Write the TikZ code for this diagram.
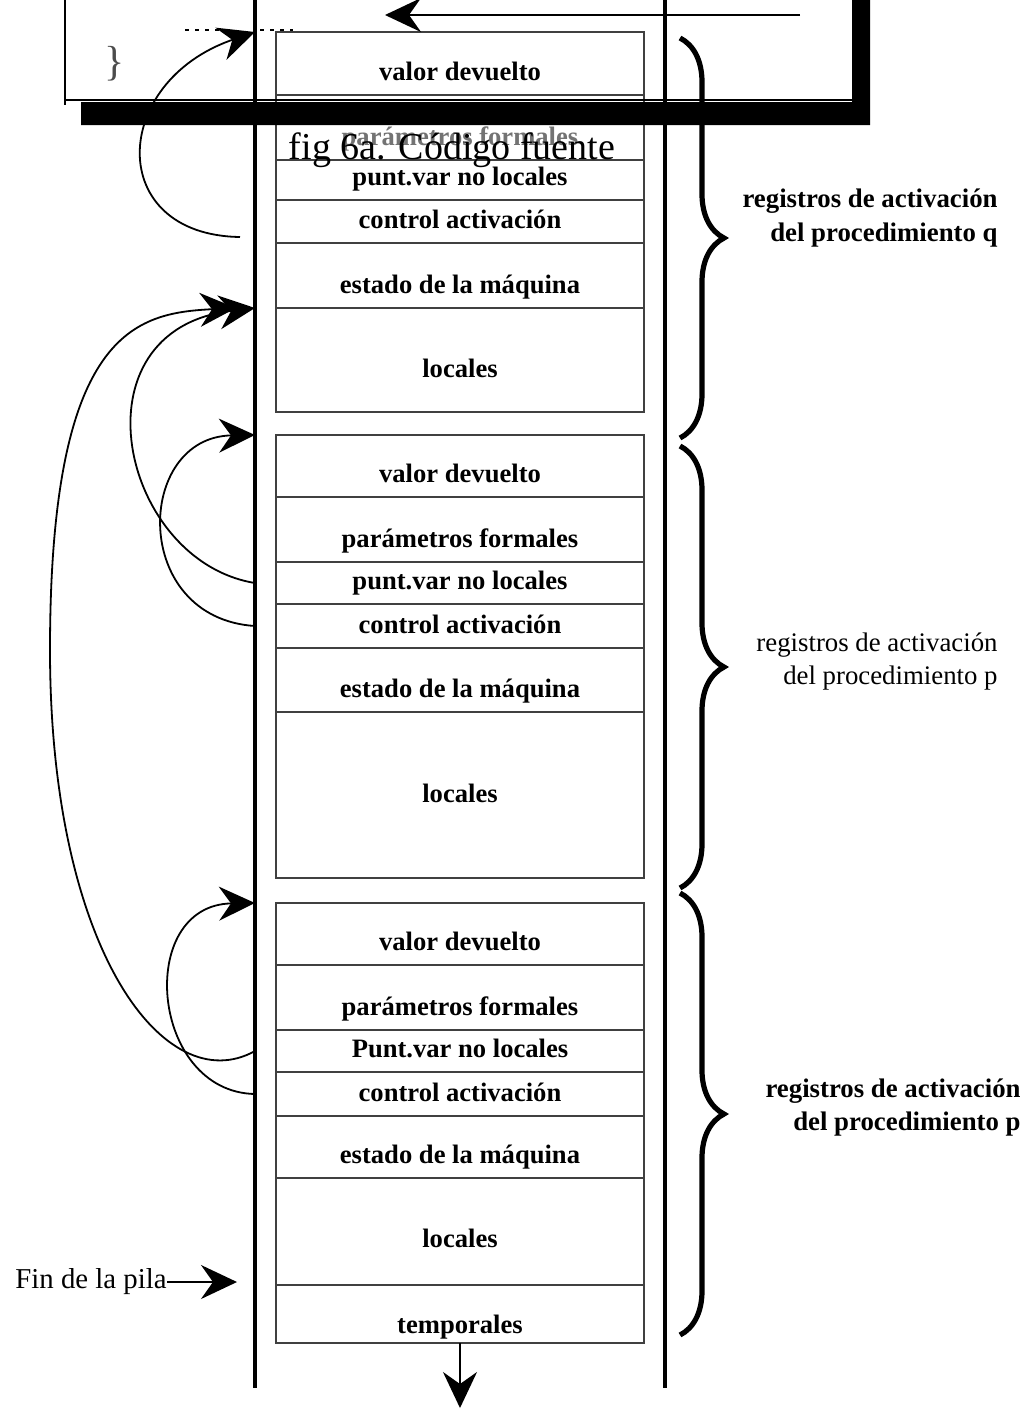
\documentclass[tikz,border=0pt]{standalone}
\usepackage{fontspec}
\setmainfont{Liberation Serif}
\usepackage{tikz}
\usetikzlibrary{positioning,arrows.meta,decorations.pathreplacing}
\tikzstyle{celda} = [rectangle, draw=black!75, line width=0.9pt, minimum width=184pt, inner sep=0pt, outer sep=0pt, text depth=7.5pt, font=\bfseries\fontsize{13.3}{15}\selectfont]
\tikzstyle{etiqueta} = [align=right, inner sep=0pt, anchor=east, font=\bfseries\fontsize{13.4}{17}\selectfont]
\tikzstyle{arrow} = [line width=0.9pt,->,>={Stealth[length=18pt,width=17pt,inset=6pt]}]
\tikzstyle{llave} = [decorate, decoration={brace, amplitude=22pt}, line width=2.6pt]
\tikzstyle{pared} = [line width=1.6pt]

\begin{document}
\begin{tikzpicture}[x=0.5pt, y=-0.5pt]
\useasboundingbox (0,0) rectangle (1023,1410);

% paredes de la pila
\coordinate (izq) at (255,0);
\coordinate (izq2) at (236,0);
\draw[pared] (izq) -- (255,1388);
\draw[pared] (665,0) -- (665,1388);

% registro del procedimiento q
\node[celda, anchor=north, text height=24pt] (q1) at (460,32) {valor devuelto};
\node[celda, text height=25pt, below=0pt of q1, text=black!55] (q2) {parámetros formales};
\node[celda, text height=12.5pt, below=0pt of q2] (q3) {punt.var no locales};
\node[celda, text height=14pt, below=0pt of q3] (q4) {control activación};
\node[celda, text height=25pt, below=0pt of q4] (q5) {estado de la máquina};
\node[celda, text height=34.5pt, text depth=17.5pt, below=0pt of q5] (q6) {locales};

% registro del procedimiento p
\node[celda, anchor=north, text height=23.5pt] (p1) at (460,435) {valor devuelto};
\node[celda, text height=25pt, below=0pt of p1] (p2) {parámetros formales};
\node[celda, text height=13.5pt, below=0pt of p2] (p3) {punt.var no locales};
\node[celda, text height=14.5pt, below=0pt of p3] (p4) {control activación};
\node[celda, text height=24.5pt, below=0pt of p4] (p5) {estado de la máquina};
\node[celda, text height=45pt, text depth=38pt, below=0pt of p5] (p6) {locales};

% registro del procedimiento p (otra vez)
\node[celda, anchor=north, text height=23.5pt] (r1) at (460,903) {valor devuelto};
\node[celda, text height=25pt, below=0pt of r1] (r2) {parámetros formales};
\node[celda, text height=13.5pt, below=0pt of r2] (r3) {Punt.var no locales};
\node[celda, text height=14.5pt, below=0pt of r3] (r4) {control activación};
\node[celda, text height=23.5pt, below=0pt of r4] (r5) {estado de la máquina};
\node[celda, text height=34.5pt, text depth=19pt, below=0pt of r5] (r6) {locales};
\node[celda, text height=24pt, text depth=5pt, below=0pt of r6] (r7) {temporales};

% llaves y etiquetas
\draw[llave] (680,38) -- (680,438);
\draw[llave] (680,446) -- (680,888);
\draw[llave] (680,893) -- (680,1335);
\node[etiqueta] (regq) at (998,218) {registros de activación\\del procedimiento q};
\node[etiqueta, font=\fontsize{13.4}{16.5}\selectfont] (regp) at (998,662) {registros de activación\\del procedimiento p};
\node[etiqueta, font=\bfseries\fontsize{13.4}{16.5}\selectfont] (regr) at (1021,1108) {registros de activación\\del procedimiento p};

% enlaces
\coordinate (qa) at (240,237);
\draw[arrow] (qa) .. controls +(-135,-2) and +(-145,50) .. (q1.north -| izq);
\draw[arrow] (p3 -| izq) .. controls +(-135,-22) and +(-185,22) .. (q6.north -| izq);
\draw[arrow] (p4 -| izq) .. controls +(-125,-8) and +(-120,2) .. (p1.north -| izq);
\draw[arrow] (r3 -| izq) .. controls +(-90,50) and +(0,300) .. (50,650) .. controls +(0,-320) and +(-100,5) .. (q6.north -| izq2);
\draw[arrow] (r4 -| izq) .. controls +(-105,-2) and +(-120,2) .. (r1.north -| izq);

% fin de la pila
\node[anchor=east, inner sep=0pt, font=\fontsize{14.4}{15}\selectfont] (fin) at (167,1282) {Fin de la pila};
\coordinate (finpila) at (237,1282);
\draw[arrow] (fin) -- (finpila);
\coordinate (abajo) at (460,1408);
\draw[arrow] (r7) -- (abajo);

% ventana del codigo fuente
\draw[line width=0.6pt] (65,-5) -- (65,105);
\draw[line width=0.6pt] (65,100) -- (852,100);
\fill (852,-5) -- (870,-5) -- (870,125) -- (81,125) -- (81,102) -- (852,102) -- cycle;
\node[font=\fontsize{21}{21}\selectfont, text=black!70] (llavecod) at (115,64) {\}};
\draw[dash pattern=on 1.8pt off 3.2pt, line width=1.2pt] (185,30) -- (228,30);
\draw[dash pattern=on 1.8pt off 3.2pt, line width=1.2pt] (260,30) -- (293,30);
\coordinate (origen) at (800,15);
\coordinate (destino) at (385,15);
\draw[arrow] (origen) -- (destino);
\node[font=\fontsize{19}{19}\selectfont] (figura) at (452,150) {fig 6a. Código fuente};
\end{tikzpicture}
\end{document}
